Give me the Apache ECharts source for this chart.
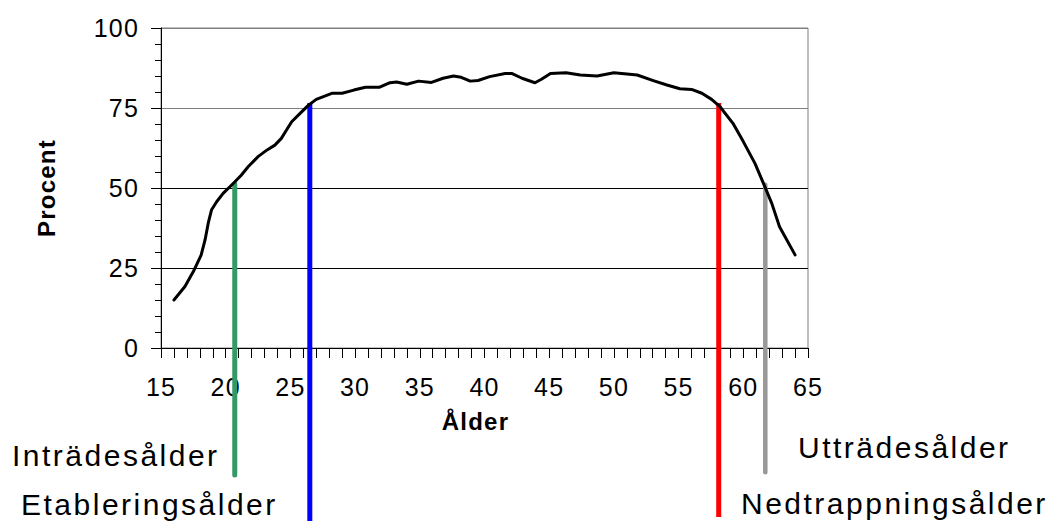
<!DOCTYPE html>
<html>
<head>
<meta charset="utf-8">
<script src="https://cdn.jsdelivr.net/npm/echarts@6/dist/echarts.min.js"></script>
<style>
    html, body { margin: 0; padding: 0; background: #fff; }
    #chart { width: 1058px; height: 521px; }
    #chart text { letter-spacing: 1.2px; }
    #chart text[style*="30px"] { letter-spacing: 2.5px; }
</style>
</head>
<body>
<div id="chart"></div>
<script>
// andel (procent) per ålder
var ages = [16, 16.85, 17.5, 18.1, 18.4, 18.65, 18.9, 19.3, 19.8, 20.6, 21.2, 21.75, 22.5, 23.2, 23.8, 24.3,
    24.7, 25.1, 25.75, 26.4, 27.0, 27.7, 28.2, 29.0, 29.9, 30.8, 31.9, 32.7, 33.2, 34.0, 34.9, 35.9, 36.8,
    37.6, 38.2, 38.9, 39.5, 40.4, 41.6, 42.1, 42.9, 43.9, 44.4, 45.1, 46.3, 47.4, 48.7, 50.0, 51.8, 53.1,
    54.1, 55.1, 56.0, 56.8, 57.55, 58.2, 59.2, 60.0, 60.9, 61.55, 62.2, 62.8, 64.0];
var shares = [15, 19.2, 23.9, 29, 33.7, 39, 43.1, 45.7, 48.3, 51.5, 54, 56.7, 59.8, 61.9, 63.4, 65.5,
    68.1, 70.7, 73.3, 75.9, 77.7, 78.8, 79.6, 79.6, 80.6, 81.5, 81.5, 82.9, 83.1, 82.4, 83.4, 83.0, 84.3,
    85.0, 84.6, 83.4, 83.6, 84.8, 85.8, 85.8, 84.3, 82.9, 84.0, 85.8, 86.0, 85.3, 85.0, 86.0, 85.3, 83.5,
    82.2, 81.0, 80.8, 79.6, 77.7, 75.4, 70.2, 64.5, 57.7, 51.5, 45.2, 37.9, 29.1];

// markeringar: ålder, övre och nedre ände (nedre ände under axeln)
var markerNames = ['Inträdesålder', 'Etableringsålder', 'Nedtrappningsålder', 'Utträdesålder'];
var markerAges = [20.7, 26.5, 58.1, 61.7];
var markerTops = [51.3, 76.6, 76.6, 51];
var markerBottoms = [-39.7, -56, -52.8, -38.8];

var font = "'Liberation Sans', Arial, Helvetica, sans-serif";
var markerColors = ['#339966', '#0000ff', '#ff0000', '#999999'];
var markerWidths = [5, 5, 5, 4.5];
var markerCaps = ['round', 'butt', 'butt', 'round'];

var series = [];
for (var i = 0; i < markerNames.length; i++) {
    series.push({
        name: markerNames[i],
        type: 'line',
        clip: false,
        showSymbol: false,
        silent: true,
        data: [[markerAges[i], markerTops[i]], [markerAges[i], markerBottoms[i]]],
        lineStyle: { color: markerColors[i], width: markerWidths[i], cap: markerCaps[i] },
        z: 2
    });
}
series.push({
    name: 'Procent',
    type: 'line',
    showSymbol: false,
    smooth: false,
    data: ages.map(function (a, k) { return [a, shares[k]]; }),
    lineStyle: { color: '#000', width: 3, join: 'round', cap: 'round' },
    z: 3
});

var myChart = echarts.init(document.getElementById('chart'), null, { renderer: 'svg' });
var option = {
    animation: false,
    backgroundColor: '#fff',
    grid: {
        left: 161, right: 250, top: 28, bottom: 173,
        show: true, borderColor: '#808080', borderWidth: 1,
        containLabel: false, outerBoundsMode: 'none'
    },
    xAxis: {
        type: 'value',
        min: 15, max: 65, interval: 5,
        name: 'Ålder',
        nameLocation: 'middle',
        nameGap: 61,
        nameTextStyle: { fontFamily: font, fontSize: 24, fontWeight: 'bold', color: '#000', padding: [0, 18, 0, 0] },
        axisLine: { lineStyle: { color: '#000', width: 1 } },
        axisTick: { show: true, length: 10, lineStyle: { color: '#000' } },
        minorTick: { show: true, splitNumber: 5, length: 10, lineStyle: { color: '#000' } },
        axisLabel: { fontFamily: font, fontSize: 25, color: '#000', margin: 26 },
        splitLine: { show: false }
    },
    yAxis: {
        type: 'value',
        min: 0, max: 100, interval: 25,
        name: 'Procent',
        nameLocation: 'middle',
        nameRotate: 90,
        nameGap: 103,
        nameTextStyle: { fontFamily: font, fontSize: 24, fontWeight: 'bold', color: '#000' },
        axisLine: { show: true, lineStyle: { color: '#000', width: 1 } },
        axisTick: { show: true, length: 10, lineStyle: { color: '#000' } },
        minorTick: { show: true, splitNumber: 5, length: 6, lineStyle: { color: '#000' } },
        axisLabel: { fontFamily: font, fontSize: 25, color: '#000', margin: 22 },
        splitLine: { show: true, lineStyle: { color: ['#000', '#000', '#000', '#808080', '#808080'], width: 1 } }
    },
    graphic: [
        { type: 'text', x: 12, y: 455, style: { text: markerNames[0], fontFamily: font, fontSize: 30, fill: '#000', align: 'left', verticalAlign: 'middle' } },
        { type: 'text', x: 21, y: 504, style: { text: markerNames[1], fontFamily: font, fontSize: 30, fill: '#000', align: 'left', verticalAlign: 'middle' } },
        { type: 'text', x: 741, y: 503, style: { text: markerNames[2], fontFamily: font, fontSize: 30, fill: '#000', align: 'left', verticalAlign: 'middle' } },
        { type: 'text', x: 798, y: 447, style: { text: markerNames[3], fontFamily: font, fontSize: 30, fill: '#000', align: 'left', verticalAlign: 'middle' } }
    ],
    series: series
};
myChart.setOption(option);
</script>
</body>
</html>
